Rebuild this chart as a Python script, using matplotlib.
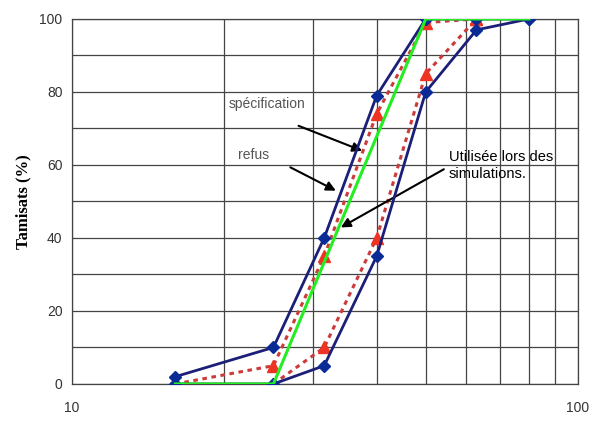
import matplotlib.pyplot as plt
from matplotlib.ticker import FixedLocator, NullFormatter

# tamis (mm) et tamisats (%)
spec_haut_x = [16, 25, 31.5, 40, 50, 63, 80]
spec_haut_y = [2, 10, 40, 79, 100, 100, 100]
spec_bas_x = [16, 25, 31.5, 40, 50, 63, 80]
spec_bas_y = [0, 0, 5, 35, 80, 97, 100]

refus_haut_x = [16, 25, 31.5, 40, 50, 63]
refus_haut_y = [0, 5, 35, 74, 99, 100]
refus_bas_x = [25, 31.5, 40, 50, 63]
refus_bas_y = [0, 10, 40, 85, 100]

simu_x = [16, 25, 50, 80]
simu_y = [0, 0, 100, 100]

navy = '#1c1f78'
marker_blue = '#0a2a96'
red = '#ee3322'
dotred = '#cc3b3b'
green = '#22ee22'

fig = plt.figure(figsize=(5.91, 4.21), dpi=100)
ax = fig.add_axes([0.122, 0.088, 0.856, 0.867])

# courbes refus (pointillés rouges)
for xs, ys in [(refus_haut_x, refus_haut_y), (refus_bas_x, refus_bas_y)]:
    ax.plot(xs, ys, linestyle=(0, (1.5, 1.5)), color=dotred, linewidth=2.2,
            marker='^', markersize=8, markerfacecolor=red, markeredgecolor=red,
            zorder=3)

# fuseau de spécification (bleu)
for xs, ys in [(spec_haut_x, spec_haut_y), (spec_bas_x, spec_bas_y)]:
    ax.plot(xs, ys, '-', color=navy, linewidth=2, marker='D', markersize=6.5,
            markerfacecolor=marker_blue, markeredgecolor=marker_blue, zorder=4)

# courbe utilisée (verte)
ax.plot(simu_x, simu_y, '-', color=green, linewidth=2.2, zorder=5)

ax.set_xscale('log')
ax.set_xlim(10, 100)
ax.set_ylim(0, 100)
ax.xaxis.set_major_locator(FixedLocator([10, 100]))
ax.xaxis.set_minor_locator(FixedLocator([20, 30, 40, 50, 60, 70, 80, 90]))
ax.xaxis.set_minor_formatter(NullFormatter())
ax.set_xticklabels(['10', '100'])
ax.set_yticks([0, 20, 40, 60, 80, 100])
ax.set_yticks(range(10, 100, 20), minor=True)
ax.grid(True, which='both', color='#444444', linewidth=0.9)
ax.tick_params(which='both', length=0, labelsize=10, labelcolor='#333333',
               colors='#333333')
ax.tick_params(axis='x', pad=12)
ax.tick_params(axis='y', pad=7)
for lbl in ax.get_xticklabels() + ax.get_yticklabels():
    lbl.set_family('Liberation Sans')
for sp in ax.spines.values():
    sp.set_color('#444444')
    sp.set_linewidth(0.9)

ax.set_ylabel('Tamisats (%)', family='Liberation Serif', fontweight='bold',
              fontsize=12, labelpad=6)

arrow = dict(arrowstyle='-|>', color='black', lw=1.5, mutation_scale=14)
ax.text(24.3, 76.7, 'spécification', fontsize=10, color='#555555',
        family='Liberation Sans', ha='center', va='center')
ax.annotate('', xy=(37.9, 63.6), xytext=(27.7, 71), arrowprops=arrow)
ax.text(22.8, 62.7, 'refus', fontsize=10, color='#555555',
        family='Liberation Sans', ha='center', va='center')
ax.annotate('', xy=(33.6, 52.6), xytext=(26.7, 59.7), arrowprops=arrow)
ax.text(55.5, 59.8, 'Utilisée lors des\nsimulations.', fontsize=10.5,
        color='black', family='Liberation Sans', ha='left', va='center',
        linespacing=1.25)
ax.annotate('', xy=(33.6, 42.5), xytext=(54.9, 59.2), arrowprops=arrow)

fig.savefig('out.png', dpi=100)
